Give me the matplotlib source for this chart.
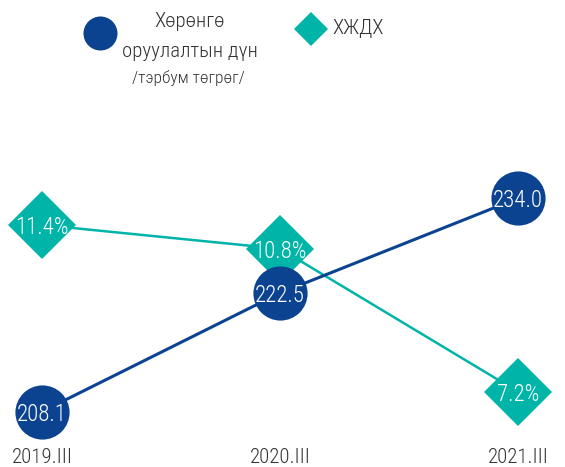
import matplotlib.pyplot as plt
from matplotlib.lines import Line2D

plt.rcParams['font.family'] = ['Roboto Condensed', 'DejaVu Sans']
plt.rcParams['font.weight'] = 'light'

periods = ['2019.III', '2020.III', '2021.III']
investment = [208.1, 222.5, 234.0]   # тэрбум төгрөг
gdp_share = [11.4, 10.8, 7.2]        # %

BLUE = '#0b4390'
TEAL = '#00b4a8'
GREY = '#333333'

fig = plt.figure(figsize=(5.65, 4.67), dpi=100)
ax = fig.add_axes([0, 0.058, 1, 0.942])
ax2 = ax.twinx()

x = range(len(periods))

# teal series first so the blue one sits on top
ax.plot(x, gdp_share, color=TEAL, lw=1.8, marker='D', ms=35,
        markeredgewidth=0, zorder=2)
for i, v in enumerate(gdp_share):
    ax.text(i, v, f'{v:.1f}%', color='white', fontsize=16.5,
            ha='center', va='center_baseline', zorder=3)

ax2.plot(x, investment, color=BLUE, lw=2.2, marker='o', ms=39,
         markeredgewidth=0, zorder=2)
for i, v in enumerate(investment):
    ax2.text(i, v, f'{v:.1f}', color='white', fontsize=16.5,
             ha='center', va='center_baseline', zorder=3)

ax.set_xlim(-0.1765, 2.197)
ax.set_ylim(5.99, 17.06)
ax2.set_ylim(204.66, 258.07)

ax.set_xticks(list(x), periods)
ax.tick_params(axis='x', length=0, pad=6, labelsize=15, labelcolor=GREY)
for a in (ax, ax2):
    a.set_yticks([])
    for s in a.spines.values():
        s.set_visible(False)

# legend keys and labels
fig.add_artist(Line2D([0.177], [0.929], transform=fig.transFigure, color=BLUE,
                      marker='o', ms=24.5, markeredgewidth=0))
fig.add_artist(Line2D([0.550], [0.938], transform=fig.transFigure, color=TEAL,
                      marker='D', ms=17, markeredgewidth=0))
fig.text(0.336, 0.953, 'Хөрөнгө', ha='center', va='center', fontsize=15, color=GREY)
fig.text(0.336, 0.889, 'оруулалтын дүн', ha='center', va='center', fontsize=15, color=GREY)
fig.text(0.333, 0.833, '/тэрбум төгрөг/', ha='center', va='center', fontsize=12.5, color=GREY)
fig.text(0.589, 0.940, 'ХЖДХ', ha='left', va='center', fontsize=15, color=GREY)

fig.savefig('out.png', dpi=100)
